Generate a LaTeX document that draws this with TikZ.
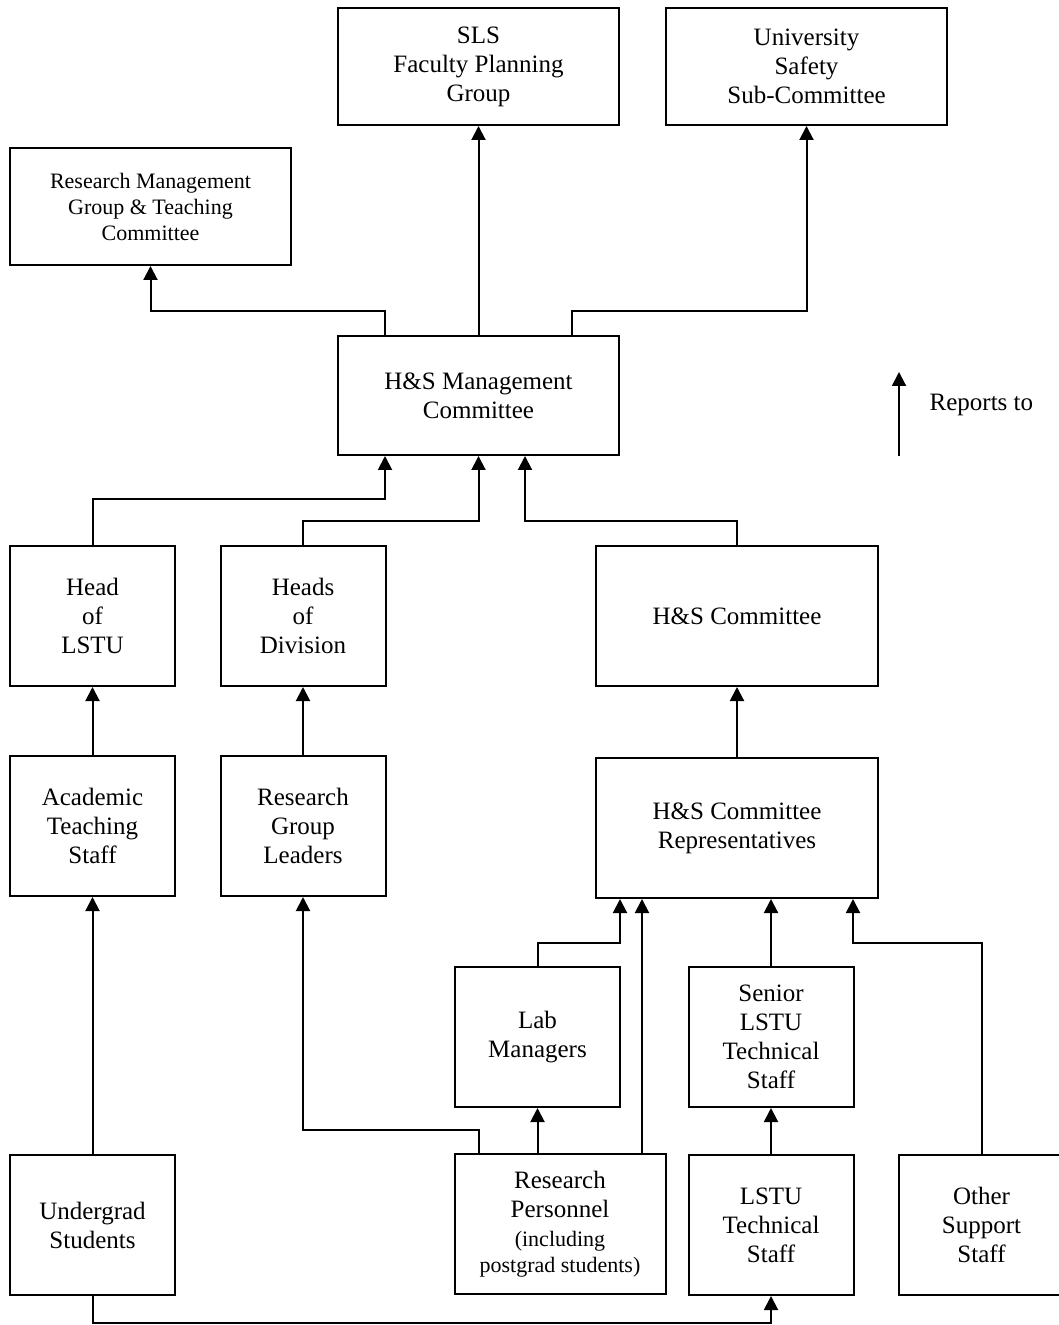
\documentclass[tikz,border=0pt]{standalone}
\usepackage{fontspec}
\setmainfont{Liberation Serif}
\usetikzlibrary{arrows.meta}

\begin{document}
\begin{tikzpicture}[
    x = 0.5pt, y = -0.5pt, %
    > = {Triangle[width=7pt,length=7pt]}, %
    line width = 1pt %
    ]

    \tikzset{unit/.style={draw = black, line width = 1pt, align = center,
        inner sep = 0pt, font = \fontsize{12.5}{14.5}\selectfont}}
    \tikzset{wideunit/.style={unit, minimum width = 140.5pt, minimum height = 58.5pt}}
    \tikzset{bigunit/.style={unit, minimum width = 141pt, minimum height = 70pt}}
    \tikzset{smallunit/.style={unit, minimum width = 82.5pt, minimum height = 70pt}}
    \tikzset{reports/.style={->, line width = 1pt}}
    \newcommand{\smallfont}{\fontsize{11}{13}\selectfont}

    \useasboundingbox (0,0) rectangle (1058,1325);

    % top level
    \node[wideunit] (sls) at (478.5,66.5) {SLS\\Faculty Planning\\Group};
    \node[wideunit] (usc) at (806.5,66.5) {University\\Safety\\Sub-Committee};
    \node[wideunit, font = \smallfont] (rmg) at (150.5,206.5)
        {Research Management\\Group \& Teaching\\Committee};
    \node[wideunit, minimum height = 59.5pt] (hsm) at (478.5,395.5)
        {H\&S Management\\Committee};

    % middle
    \node[smallunit] (hol) at (92.5,616) {Head\\of\\LSTU};
    \node[smallunit] (hod) at (303,616) {Heads\\of\\Division};
    \node[bigunit] (hsc) at (737,616) {H\&S Committee};
    \node[smallunit] (ats) at (92.5,826) {Academic\\Teaching\\Staff};
    \node[smallunit] (rgl) at (303,826) {Research\\Group\\Leaders};
    \node[bigunit] (rep) at (737,828) {H\&S Committee\\Representatives};
    \node[smallunit] (lab) at (537.5,1037) {Lab\\Managers};
    \node[smallunit] (sen) at (771,1037) {Senior\\LSTU\\Technical\\Staff};

    % bottom
    \node[smallunit] (ug) at (92.5,1225) {Undergrad\\Students};
    \node[smallunit, minimum width = 105.5pt] (rp) at (560,1224)
        {Research\\Personnel\\{\smallfont (including}\\[-1.5pt]{\smallfont postgrad students)}};
    \node[smallunit] (lts) at (771,1225) {LSTU\\Technical\\Staff};
    \node[smallunit] (oss) at (981.5,1225) {Other\\Support\\Staff};

    % legend
    \coordinate (lg0) at (899,456);
    \coordinate (lg1) at (899,372);
    \node[anchor = west, font = \fontsize{12.5}{14.5}\selectfont] (lgt) at (922,405) {Reports to};
    \draw[reports] (lg0) -- (lg1);

    \draw[reports] ([xshift=-46.75pt]hsm.north) -- ++(0,-24) -| (rmg.south);
    \draw[reports] (hsm.north) -- (sls.south);
    \draw[reports] ([xshift=46.75pt]hsm.north) -- ++(0,-24) -| (usc.south);

    \draw[reports] (hol.north) -- ++(0,-46) -| ([xshift=-46.75pt]hsm.south);
    \draw[reports] (hod.north) -- ++(0,-24) -| (hsm.south);
    \draw[reports] (hsc.north) -- ++(0,-24) -| ([xshift=23.25pt]hsm.south);

    \draw[reports] (ats.north) -- (hol.south);
    \draw[reports] (rgl.north) -- (hod.south);
    \draw[reports] (rep.north) -- (hsc.south);

    \coordinate (rpr) at ([xshift=41pt]rp.north);
    \draw[reports] (lab.north) -- ++(0,-23) -| ([xshift=-58.5pt]rep.south);
    \draw[reports] (rpr) -- (rpr |- rep.south);
    \draw[reports] (sen.north) -- (sen.north |- rep.south);
    \draw[reports] (oss.north) -- ++(0,-211) -| ([xshift=58pt]rep.south);

    \draw[reports] (lab.south |- rp.north) -- (lab.south);
    \draw[reports] ([xshift=-40.5pt]rp.north) -- ++(0,-23) -| (rgl.south);
    \draw[reports] (lts.north) -- (sen.south);
    \draw[reports] (ug.north) -- (ats.south);
    \draw[reports] (ug.south) -- ++(0,27) -| (lts.south);

\end{tikzpicture}
\end{document}
